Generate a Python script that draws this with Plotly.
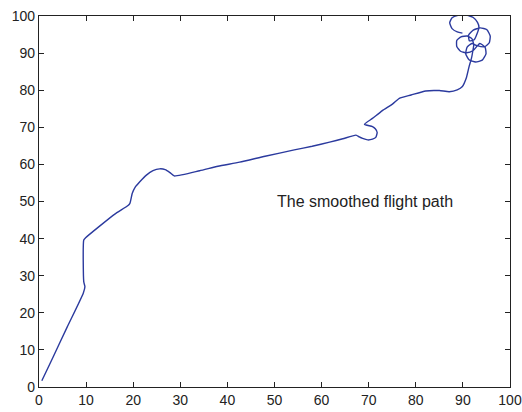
import plotly.graph_objects as go

# Flight path (x, y)
x_path = [0.6, 3.0, 6.0, 9.4, 9.75, 9.5, 9.5, 9.96, 13.0, 16.1, 18.9, 19.3, 19.8, 20.4, 21.4, 22.8, 24.2, 25.6,
          26.8, 27.8, 28.7, 34.1, 38.0, 42.6, 48.0, 54.2, 58.0, 61.7, 64.5, 67.3, 68.0, 68.7, 69.8, 70.8, 71.5, 71.8,
          71.4, 70.8, 69.1, 70.8, 72.9, 75.1, 76.5, 79.0, 82.1, 85.0, 87.1, 88.8, 89.9, 90.7, 91.3, 91.8, 92.1, 92.3,
          91.9, 90.9, 89.6, 88.7, 88.7, 89.5, 90.8, 92.2,
          93.6, 94.7, 94.9, 94.1, 92.7, 91.3, 90.6, 90.9, 91.9,
          93.0, 94.6, 95.6, 95.8, 95.1, 93.7, 92.2, 91.2, 91.4, 92.4, 93.0, 93.4,
          93.1, 92.2, 90.6, 89.0, 87.7, 87.2, 87.7, 88.8, 89.9]
y_path = [1.7, 8.1, 16.2, 25.3, 27.0, 28.4, 39.6, 40.3, 43.5, 46.6, 48.9, 49.5, 52.2, 53.8, 55.3, 57.1, 58.3, 58.8,
          58.6, 57.8, 56.9, 58.3, 59.5, 60.6, 62.2, 63.9, 64.9, 66.0, 66.9, 67.9, 67.4, 67.0, 66.6, 66.8, 67.3, 68.6,
          69.6, 70.2, 70.8, 72.4, 74.5, 76.3, 77.8, 78.7, 79.8, 79.9, 79.6, 80.1, 81.0, 83.2, 86.3, 88.5, 90.5, 92.3,
          93.9, 94.6, 94.4, 93.4, 91.8, 90.5, 90.1, 90.7,
          92.6, 91.6, 89.8, 88.1, 87.6, 88.2, 89.8, 91.6, 92.6,
          92.0, 91.7, 92.8, 94.6, 96.3, 96.8, 96.2, 94.8, 93.3, 93.6, 95.2, 97.0,
          98.3, 99.6, 100.3, 100.2, 99.5, 98.2, 96.6, 95.7, 95.4]

tick_vals = [0, 10, 20, 30, 40, 50, 60, 70, 80, 90, 100]
label_text = "The smoothed flight path"
label_pos = (50, 50)

FONT = "Liberation Sans, Arial, Helvetica, sans-serif"

fig = go.Figure()
fig.add_trace(go.Scatter(x=x_path, y=y_path, mode="lines",
                         line=dict(color="#2B3A9E", width=1.4, shape="spline", smoothing=0.5),
                         showlegend=False, hoverinfo="skip"))

fig.add_annotation(x=label_pos[0], y=label_pos[1], text=label_text, showarrow=False,
                   xanchor="left", yanchor="middle",
                   font=dict(family=FONT, size=16, color="#222222"))

axis_common = dict(range=[0, 100], tickvals=tick_vals, ticks="inside", ticklen=5, tickwidth=1,
                   tickcolor="#222222", showline=True, linecolor="#222222", linewidth=1.4,
                   mirror="ticks", showgrid=False, zeroline=False, automargin=False,
                   ticklabeloverflow="allow",
                   tickfont=dict(family=FONT, size=14, color="#222222"))

fig.update_xaxes(**axis_common)
fig.update_yaxes(**axis_common)

fig.update_layout(width=522, height=412, margin=dict(l=39, r=12, t=16, b=25),
                  paper_bgcolor="white", plot_bgcolor="white")

fig.write_html("out.html")
